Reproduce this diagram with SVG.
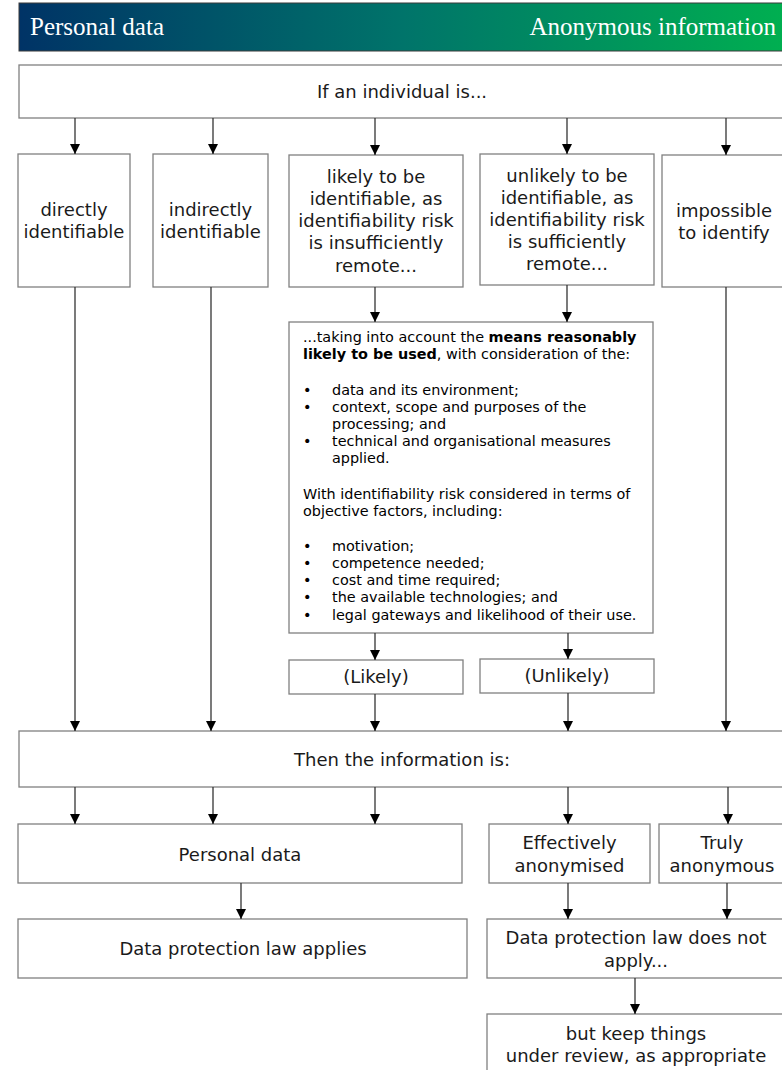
<svg xmlns="http://www.w3.org/2000/svg" width="782" height="1070" viewBox="0 0 782 1070">
<defs>
<linearGradient id="hdr" x1="0" y1="0" x2="1" y2="0">
<stop offset="0" stop-color="#003366"/>
<stop offset="0.5" stop-color="#00746a"/>
<stop offset="1" stop-color="#00b050"/>
</linearGradient>
<marker id="arr" viewBox="0 0 10 10" refX="10" refY="5" markerWidth="10" markerHeight="10" markerUnits="userSpaceOnUse" orient="auto">
<path d="M0,0 L10,5 L0,10 z" fill="#000"/>
</marker>
<style>
.box{fill:#fff;stroke:#808080;stroke-width:1.3}
.t{font-family:"DejaVu Sans","Verdana",sans-serif;font-size:18px;fill:#1a1a1a;text-anchor:middle}
.s{font-family:"DejaVu Sans","Verdana",sans-serif;font-size:14.4px;fill:#000}
.b{font-weight:bold}
.h{font-family:"Liberation Serif","Times New Roman",serif;font-size:25px;fill:#fff}
.c line{stroke:#333;stroke-width:1.3;marker-end:url(#arr)}
</style>
</defs>
<rect width="782" height="1070" fill="#fff"/>
<g id="header">
<rect x="19" y="3" width="770" height="48" fill="url(#hdr)" stroke="#3a3a3a" stroke-width="1"/>
<text class="h" x="30" y="35">Personal data</text>
<text class="h" x="776" y="35" text-anchor="end">Anonymous information</text>
</g>
<g id="top">
<rect class="box" x="19" y="65" width="770" height="53"/>
<text class="t" x="402" y="98">If an individual is...</text>
</g>
<g id="direct">
<rect class="box" x="18" y="154" width="112" height="133"/>
<text class="t" x="74" y="216">directly</text>
<text class="t" x="74" y="238">identifiable</text>
</g>
<g id="indirect">
<rect class="box" x="153" y="154" width="115" height="133"/>
<text class="t" x="210.5" y="216">indirectly</text>
<text class="t" x="210.5" y="238">identifiable</text>
</g>
<g id="likely">
<rect class="box" x="289" y="155" width="174" height="132"/>
<text class="t" x="376" y="183">likely to be</text>
<text class="t" x="376" y="205">identifiable, as</text>
<text class="t" x="376" y="227">identifiability risk</text>
<text class="t" x="376" y="249">is insufficiently</text>
<text class="t" x="376" y="272">remote...</text>
</g>
<g id="unlikely">
<rect class="box" x="480" y="154" width="174" height="131"/>
<text class="t" x="567" y="182">unlikely to be</text>
<text class="t" x="567" y="204">identifiable, as</text>
<text class="t" x="567" y="226">identifiability risk</text>
<text class="t" x="567" y="248">is sufficiently</text>
<text class="t" x="567" y="270">remote...</text>
</g>
<g id="impossible">
<rect class="box" x="662" y="155" width="127" height="132"/>
<text class="t" x="724" y="217">impossible</text>
<text class="t" x="724" y="239">to identify</text>
</g>
<g id="means">
<rect class="box" x="289" y="322" width="364" height="311"/>
<text class="s" x="303" y="342">...taking into account the <tspan class="b">means reasonably</tspan></text>
<text class="s" x="303" y="359"><tspan class="b">likely to be used</tspan>, with consideration of the:</text>
<text class="s" x="303" y="395">•</text><text class="s" x="332" y="395">data and its environment;</text>
<text class="s" x="303" y="412">•</text><text class="s" x="332" y="412">context, scope and purposes of the</text>
<text class="s" x="332" y="429">processing; and</text>
<text class="s" x="303" y="446">•</text><text class="s" x="332" y="446">technical and organisational measures</text>
<text class="s" x="332" y="463">applied.</text>
<text class="s" x="303" y="499">With identifiability risk considered in terms of</text>
<text class="s" x="303" y="516">objective factors, including:</text>
<text class="s" x="303" y="551">•</text><text class="s" x="332" y="551">motivation;</text>
<text class="s" x="303" y="568">•</text><text class="s" x="332" y="568">competence needed;</text>
<text class="s" x="303" y="585">•</text><text class="s" x="332" y="585">cost and time required;</text>
<text class="s" x="303" y="602">•</text><text class="s" x="332" y="602">the available technologies; and</text>
<text class="s" x="303" y="620">•</text><text class="s" x="332" y="620">legal gateways and likelihood of their use.</text>
</g>
<g id="likelyResult">
<rect class="box" x="289" y="660" width="174" height="34"/>
<text class="t" x="376" y="683">(Likely)</text>
</g>
<g id="unlikelyResult">
<rect class="box" x="480" y="659" width="174" height="34"/>
<text class="t" x="567" y="682">(Unlikely)</text>
</g>
<g id="then">
<rect class="box" x="19" y="731" width="770" height="56"/>
<text class="t" x="402" y="766">Then the information is:</text>
</g>
<g id="personal">
<rect class="box" x="18" y="824" width="444" height="59"/>
<text class="t" x="240" y="861">Personal data</text>
</g>
<g id="effective">
<rect class="box" x="489" y="824" width="161" height="59"/>
<text class="t" x="569.5" y="849">Effectively</text>
<text class="t" x="569.5" y="872">anonymised</text>
</g>
<g id="truly">
<rect class="box" x="659" y="824" width="130" height="59"/>
<text class="t" x="722" y="849">Truly</text>
<text class="t" x="722" y="872">anonymous</text>
</g>
<g id="applies">
<rect class="box" x="18" y="919" width="449" height="59"/>
<text class="t" x="243" y="955">Data protection law applies</text>
</g>
<g id="notapply">
<rect class="box" x="487" y="919" width="302" height="59"/>
<text class="t" x="636" y="944">Data protection law does not</text>
<text class="t" x="636" y="967">apply...</text>
</g>
<g id="review">
<rect class="box" x="487" y="1014" width="302" height="66"/>
<text class="t" x="636" y="1040">but keep things</text>
<text class="t" x="636" y="1062">under review, as appropriate</text>
</g>
<g id="connectors" class="c">
<line x1="75" y1="118" x2="75" y2="154"/>
<line x1="213" y1="118" x2="213" y2="154"/>
<line x1="375" y1="118" x2="375" y2="155"/>
<line x1="567" y1="118" x2="567" y2="154"/>
<line x1="726" y1="118" x2="726" y2="155"/>
<line x1="75" y1="287" x2="75" y2="731"/>
<line x1="211" y1="287" x2="211" y2="731"/>
<line x1="726" y1="287" x2="726" y2="731"/>
<line x1="375" y1="287" x2="375" y2="322"/>
<line x1="567" y1="285" x2="567" y2="322"/>
<line x1="375" y1="633" x2="375" y2="660"/>
<line x1="568" y1="633" x2="568" y2="659"/>
<line x1="375" y1="694" x2="375" y2="731"/>
<line x1="568" y1="693" x2="568" y2="731"/>
<line x1="75" y1="787" x2="75" y2="824"/>
<line x1="213" y1="787" x2="213" y2="824"/>
<line x1="375" y1="787" x2="375" y2="824"/>
<line x1="568" y1="787" x2="568" y2="824"/>
<line x1="728" y1="787" x2="728" y2="824"/>
<line x1="241" y1="883" x2="241" y2="919"/>
<line x1="568" y1="883" x2="568" y2="919"/>
<line x1="727" y1="883" x2="727" y2="919"/>
<line x1="635" y1="978" x2="635" y2="1014"/>
</g>
</svg>
